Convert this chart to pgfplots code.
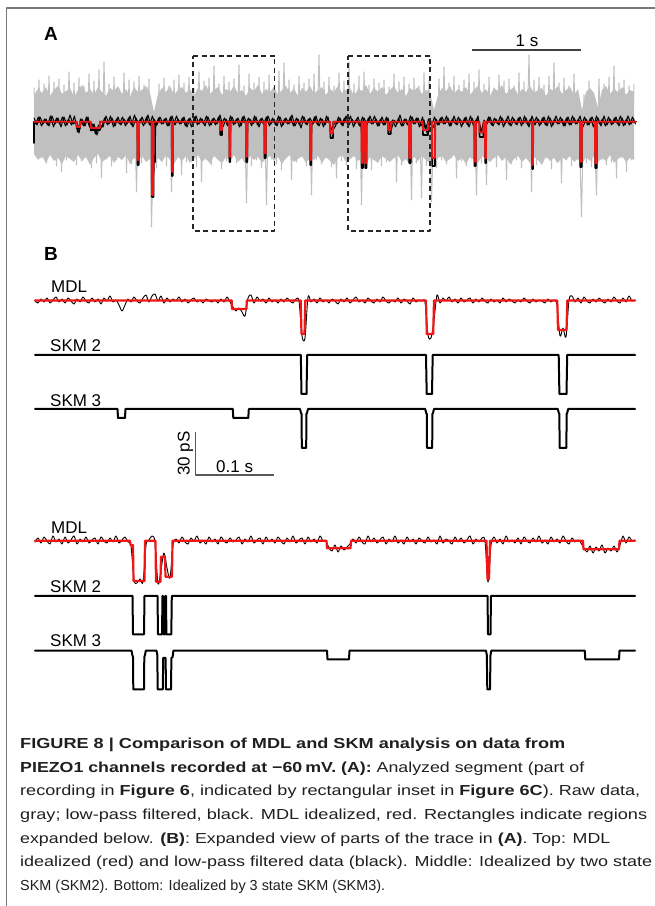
\documentclass[border=0pt]{standalone}
\usepackage{fontspec}
\setmainfont{Liberation Sans}
\usepackage{graphicx}
\usepackage{pgfplots}
\pgfplotsset{compat=1.18}
\usepgfplotslibrary{fillbetween}
\definecolor{rawgray}{RGB}{192,192,192}
\definecolor{mdlred}{RGB}{240,22,22}
\definecolor{framegray}{RGB}{120,120,120}
\newcommand\lab{\fontsize{17}{20}\selectfont}
\newcommand\capf{\fontsize{14.5}{17}\selectfont}
\begin{document}
\begin{tikzpicture}
\begin{axis}[name=ax, width=655pt, height=906pt, scale only axis,
  xmin=0, xmax=655, ymin=0, ymax=906, y dir=reverse, hide axis, clip=false,
  every axis plot/.append style={line join=round, line cap=round}]
% frame
\addplot[framegray, line width=1.5pt] coordinates {(6.5,906)(6.5,8)(655,8)};
% ---------- panel A ----------
\addplot[draw=none, name path=rawtop] table[header=false, row sep=\\, x expr=34+4*\coordindex, y index=0] {
95\\89\\93\\87\\96\\90\\86\\94\\91\\88\\
97\\90\\85\\93\\89\\95\\87\\92\\96\\88\\
91\\86\\94\\89\\97\\87\\92\\90\\86\\93\\
112\\94\\88\\92\\86\\95\\90\\87\\93\\89\\
96\\88\\91\\85\\94\\90\\87\\95\\89\\92\\
86\\93\\90\\96\\88\\91\\85\\94\\89\\92\\
87\\95\\90\\86\\93\\89\\96\\88\\92\\86\\
94\\90\\87\\95\\89\\92\\86\\93\\90\\88\\
96\\89\\91\\85\\94\\88\\92\\87\\95\\90\\
86\\93\\89\\96\\88\\91\\87\\94\\90\\92\\
110\\95\\88\\91\\86\\94\\89\\92\\87\\95\\
90\\86\\93\\89\\96\\88\\91\\85\\94\\90\\
87\\95\\89\\92\\86\\93\\90\\88\\96\\89\\
91\\86\\94\\90\\87\\95\\89\\110\\92\\88\\
93\\108\\90\\86\\94\\89\\92\\87\\95\\90\\
92\\
};
\addplot[draw=none, name path=rawbot] table[header=false, row sep=\\, x expr=34+4*\coordindex, y index=0] {
154\\160\\156\\163\\155\\161\\158\\164\\156\\159\\
162\\155\\161\\157\\165\\158\\154\\162\\159\\156\\
163\\157\\160\\155\\164\\158\\161\\156\\162\\159\\
166\\158\\162\\155\\160\\164\\157\\161\\156\\163\\
159\\155\\162\\158\\164\\156\\160\\163\\157\\161\\
155\\162\\158\\165\\156\\160\\157\\163\\159\\156\\
161\\157\\164\\158\\155\\162\\159\\156\\163\\158\\
160\\156\\163\\157\\161\\165\\158\\155\\162\\159\\
156\\161\\158\\164\\157\\160\\163\\156\\159\\162\\
158\\155\\162\\159\\165\\157\\161\\156\\160\\163\\
164\\158\\156\\162\\159\\155\\161\\158\\164\\157\\
160\\163\\156\\159\\162\\158\\155\\161\\157\\164\\
159\\156\\162\\158\\163\\157\\160\\165\\156\\161\\
158\\163\\157\\160\\156\\162\\159\\164\\157\\161\\
156\\162\\158\\161\\155\\163\\159\\156\\162\\158\\
160\\
};
\addplot[rawgray] fill between[of=rawtop and rawbot];
\addplot[rawgray, line width=1pt] table[header=false, row sep=\\, x expr=34+2.5*\coordindex, y index=0] {
88\\150\\80\\158\\84\\163\\76\\155\\82\\166\\
79\\172\\85\\160\\72\\157\\83\\165\\78\\161\\
86\\156\\74\\168\\81\\163\\70\\178\\62\\159\\
84\\166\\77\\160\\89\\158\\73\\173\\80\\164\\
82\\192\\76\\163\\85\\158\\79\\227\\120\\168\\
84\\161\\78\\166\\86\\192\\80\\159\\75\\175\\
83\\162\\77\\158\\88\\167\\72\\182\\81\\160\\
78\\165\\66\\157\\84\\169\\76\\161\\82\\158\\
79\\163\\65\\156\\86\\203\\74\\166\\83\\160\\
77\\168\\82\\205\\75\\159\\87\\164\\71\\170\\
63\\158\\80\\180\\85\\162\\76\\157\\83\\166\\
79\\195\\74\\160\\55\\164\\82\\158\\77\\167\\
86\\178\\73\\161\\81\\165\\62\\158\\84\\169\\
76\\205\\72\\163\\85\\170\\79\\160\\83\\166\\
80\\162\\87\\158\\74\\182\\82\\165\\77\\160\\
84\\200\\78\\163\\86\\198\\73\\166\\81\\202\\
118\\168\\79\\160\\67\\164\\83\\158\\76\\178\\
85\\161\\80\\166\\74\\159\\82\\195\\70\\163\\
84\\185\\77\\160\\88\\167\\75\\158\\81\\180\\
79\\164\\86\\160\\73\\168\\82\\157\\55\\192\\
80\\165\\77\\161\\85\\158\\76\\169\\63\\162\\
83\\183\\78\\160\\86\\166\\74\\159\\118\\217\\
95\\163\\81\\167\\118\\195\\79\\160\\84\\165\\
77\\162\\66\\178\\83\\158\\80\\172\\86\\160\\
84\\
};
% black low-pass fuzz
\addplot[black, line width=1pt] table[header=false, row sep=\\, x expr=34+3*\coordindex, y index=0] {
118\\125\\117\\124\\119\\126\\116\\124\\118\\127\\
117\\125\\115\\124\\122\\133\\119\\126\\117\\131\\
124\\135\\125\\127\\116\\124\\118\\126\\117\\125\\
119\\124\\116\\127\\118\\125\\117\\124\\115\\126\\
119\\125\\117\\124\\118\\126\\116\\125\\119\\124\\
117\\127\\118\\125\\116\\124\\119\\126\\117\\125\\
118\\124\\115\\127\\119\\125\\117\\124\\118\\126\\
116\\125\\119\\124\\117\\127\\118\\125\\116\\124\\
119\\126\\117\\125\\118\\124\\115\\126\\119\\128\\
117\\125\\118\\124\\116\\126\\119\\125\\117\\130\\
124\\124\\118\\126\\116\\125\\119\\124\\117\\127\\
118\\125\\116\\124\\119\\126\\117\\125\\118\\131\\
120\\124\\115\\126\\119\\125\\117\\124\\118\\126\\
120\\133\\123\\128\\119\\125\\117\\124\\118\\126\\
116\\125\\119\\124\\117\\127\\118\\125\\116\\133\\
120\\124\\117\\126\\119\\125\\118\\124\\116\\126\\
119\\125\\117\\124\\118\\127\\116\\125\\119\\124\\
117\\126\\118\\125\\116\\124\\119\\126\\117\\125\\
118\\124\\116\\127\\119\\125\\117\\124\\118\\126\\
116\\125\\119\\124\\117\\126\\118\\125\\116\\124\\
119\\
};
\addplot[black, line width=1pt] table[header=false, row sep=\\, x expr=35.5+3*\coordindex, y index=0] {
124\\117\\126\\119\\125\\116\\127\\118\\124\\117\\
126\\119\\125\\116\\132\\119\\126\\117\\127\\124\\
134\\125\\128\\118\\125\\116\\127\\119\\124\\117\\
126\\118\\125\\115\\124\\119\\126\\117\\125\\116\\
127\\118\\124\\119\\126\\117\\125\\116\\124\\118\\
126\\119\\127\\117\\125\\118\\124\\116\\126\\119\\
125\\117\\124\\118\\126\\116\\125\\119\\127\\117\\
124\\118\\126\\116\\125\\119\\124\\117\\126\\118\\
125\\116\\127\\119\\124\\117\\126\\118\\125\\116\\
124\\119\\126\\117\\125\\118\\127\\116\\124\\131\\
126\\117\\125\\118\\124\\116\\127\\119\\126\\117\\
125\\118\\124\\116\\126\\119\\125\\117\\131\\120\\
127\\118\\126\\119\\125\\116\\124\\118\\127\\117\\
130\\119\\126\\117\\125\\118\\124\\116\\126\\119\\
124\\117\\127\\118\\125\\116\\126\\119\\124\\133\\
126\\117\\125\\118\\124\\116\\127\\119\\125\\117\\
124\\118\\126\\116\\125\\119\\124\\117\\126\\118\\
125\\116\\127\\119\\124\\117\\126\\118\\125\\116\\
124\\119\\126\\117\\125\\118\\127\\116\\124\\119\\
126\\117\\125\\118\\124\\116\\126\\119\\125\\117\\
124\\
};
\addplot[black, line width=1.6pt] coordinates {(34,143)(34,121.8)(76.7,121.8)(76.7,128)(80,128)(80,121.8)(90.7,121.8)(90.7,130)(100,130)(100,121.8)(137.3,121.8)(137.5,165)(138.8,165)(139,121.8)(151.7,121.8)(151.9,197)(153.5,197)(153.8,160)(155,162)(155.3,121.8)(171.7,121.8)(171.9,176)(172.7,176)(172.9,121.8)(220,121.8)(220.3,135)(222,135)(222.2,121.8)(229.3,121.8)(229.5,162)(230.3,162)(230.5,121.8)(246,121.8)(246.2,162)(247.3,162)(247.5,121.8)(264.3,121.8)(264.5,158)(265.7,158)(265.9,121.8)(310,121.8)(310.2,165)(311.3,165)(311.5,121.8)(330,121.8)(330.5,138)(333,138)(333.3,121.8)(361.5,121.8)(361.7,168)(363,168)(363.2,121.8)(365,121.8)(365.2,168)(366.5,168)(366.7,121.8)(388,121.8)(388.3,134)(390.7,134)(391,121.8)(409,121.8)(409.2,163)(410.7,163)(410.9,121.8)(422.7,121.8)(423,135)(428,135)(428.2,121.8)(432,121.8)(432.2,166)(435,166)(435.2,121.8)(474.3,121.8)(474.5,166)(475.7,166)(475.9,121.8)(479.3,121.8)(479.6,137)(483.3,137)(483.6,121.8)(485,121.8)(485.2,163)(486,163)(486.2,121.8)(532,121.8)(532.2,169)(533,169)(533.2,121.8)(580,121.8)(580.2,167)(581.7,167)(581.9,121.8)(595,121.8)(595.2,168)(596.7,168)(596.9,121.8)(636,121.8)};
\addplot[mdlred, line width=1.8pt] coordinates {(34,121.8)(76.7,121.8)(76.7,127)(80,127)(80,121.8)(90.7,121.8)(90.7,128)(100,128)(100,121.8)(137.3,121.8)(137.5,160)(138.8,160)(139,121.8)(151.7,121.8)(151.9,195)(153.3,195)(153.5,121.8)(171.7,121.8)(171.9,171.7)(172.7,171.7)(172.9,121.8)(220,121.8)(220.3,130)(222,130)(222.2,121.8)(229.3,121.8)(229.5,156.7)(230.3,156.7)(230.5,121.8)(246,121.8)(246.2,156.7)(247.3,156.7)(247.5,121.8)(264.3,121.8)(264.5,153.3)(265.7,153.3)(265.9,121.8)(310,121.8)(310.2,160)(311.3,160)(311.5,121.8)(330,121.8)(330.5,133)(333,133)(333.3,121.8)(361.5,121.8)(361.7,163)(363,163)(363.2,121.8)(365,121.8)(365.2,163)(366.5,163)(366.7,121.8)(388,121.8)(388.3,130)(390.7,130)(391,121.8)(409,121.8)(409.2,158)(410.7,158)(410.9,121.8)(422.7,121.8)(423,130)(428,130)(428.2,121.8)(432,121.8)(432.2,158)(435,158)(435.2,121.8)(474.3,121.8)(474.5,161.7)(475.7,161.7)(475.9,121.8)(479.3,121.8)(479.6,132.3)(483.3,132.3)(483.6,121.8)(485,121.8)(485.2,158.3)(486,158.3)(486.2,121.8)(532,121.8)(532.2,165)(533,165)(533.2,121.8)(580,121.8)(580.2,161.7)(581.7,161.7)(581.9,121.8)(595,121.8)(595.2,163.3)(596.7,163.3)(596.9,121.8)(636,121.8)};
% dashed boxes
\addplot[black!85, line width=1.3pt, dash pattern=on 5pt off 3.5pt, line cap=butt] coordinates {(193,56)(274.5,56)(274.5,231)(193,231)(193,56)};
\addplot[black!85, line width=1.3pt, dash pattern=on 5pt off 3.5pt, line cap=butt] coordinates {(348,56)(430,56)(430,231)(348,231)(348,56)};
% 1 s bar
\addplot[black!75, line width=1.2pt, line cap=butt] coordinates {(472,50)(581,50)};
\node[anchor=base, inner sep=0] at (axis cs:527,46.5) {\lab 1 s};
\node[anchor=base west, inner sep=0] at (axis cs:44,40.5) {\fontsize{19}{22}\selectfont\bfseries A};
% ---------- panel B, first segment ----------
\node[anchor=base west, inner sep=0] at (axis cs:44,260.5) {\fontsize{19}{22}\selectfont\bfseries B};
\addplot[black, line width=0.9pt, smooth, tension=0.5] table[header=false, row sep=\\, x expr=35+3*\coordindex, y index=0] {
301\\303\\299\\302\\298\\303\\300\\297\\302\\299\\
303\\298\\301\\304\\299\\302\\297\\301\\303\\298\\
302\\299\\304\\298\\301\\296\\302\\300\\305\\311\\
305\\299\\302\\297\\301\\303\\298\\295\\302\\296\\
294\\301\\296\\303\\298\\302\\299\\301\\297\\302\\
299\\303\\300\\298\\302\\300\\303\\299\\301\\302\\
300\\303\\299\\302\\297\\302\\307\\311\\308\\312\\
316\\298\\295\\303\\297\\301\\299\\303\\298\\302\\
300\\303\\299\\302\\298\\301\\303\\299\\301\\336\\
338\\297\\302\\299\\303\\298\\302\\300\\303\\299\\
301\\304\\299\\302\\298\\303\\300\\297\\302\\300\\
303\\298\\301\\303\\299\\302\\297\\301\\303\\300\\
302\\298\\303\\299\\301\\304\\298\\302\\300\\301\\
302\\335\\338\\320\\295\\303\\298\\301\\297\\302\\
299\\303\\298\\302\\300\\298\\303\\299\\302\\298\\
301\\303\\299\\302\\300\\303\\298\\302\\299\\301\\
303\\300\\302\\298\\301\\303\\299\\302\\300\\301\\
303\\299\\302\\300\\305\\336\\328\\337\\300\\296\\
302\\298\\303\\297\\301\\303\\299\\302\\298\\301\\
303\\299\\302\\297\\301\\303\\298\\302\\296\\301\\
300\\
};
\addplot[mdlred, line width=2.2pt] coordinates {(35,300.5)(231.7,300.5)(231.9,309)(246.5,309)(246.7,300.5)(300.7,300.5)(301.5,334)(304.5,334)(305.3,300.5)(426,300.5)(426.8,334)(433.2,334)(434,300.5)(557.3,300.5)(558,330)(566.5,330)(567.3,300.5)(635,300.5)};
\addplot[black, line width=2pt] coordinates {(35,355)(300.8,355)(301.5,394)(306.5,394)(307.2,355)(426,355)(426.7,394)(432,394)(432.7,355)(558.7,355)(559.4,394)(566.5,394)(567.2,355)(635,355)};
\addplot[black, line width=2pt] coordinates {(35,409)(117.5,409)(118,418)(125,418)(125.5,409)(232.8,409)(233.3,418)(248.3,418)(248.8,409)(300,409)(301,413)(301.6,414)(301.8,448)(306.2,448)(306.4,414)(307,413)(308,409)(425.2,409)(426.2,413)(426.8,414)(427,448)(432.2,448)(432.4,414)(433,413)(434,409)(557.8,409)(558.8,413)(559.4,414)(559.6,448)(566.4,448)(566.6,414)(567.2,413)(568.2,409)(635,409)};
\node[anchor=base west, inner sep=0] at (axis cs:51,293) {\lab MDL};
\node[anchor=base west, inner sep=0] at (axis cs:50,352) {\lab SKM 2};
\node[anchor=base west, inner sep=0] at (axis cs:50,407) {\lab SKM 3};
% scale bar
\addplot[black!65, line width=1.2pt, line cap=butt] coordinates {(195.5,432)(195.5,475)(273.6,475)};
\node[anchor=base west, inner sep=0] at (axis cs:216,472.5) {\lab 0.1 s};
\node[rotate=90, inner sep=0] at (axis cs:185.5,453.5) {\lab 30 pS};
% ---------- panel B, second segment ----------
\addplot[black, line width=0.9pt, smooth, tension=0.5] table[header=false, row sep=\\, x expr=35+3*\coordindex, y index=0] {
542\\538\\543\\537\\541\\544\\536\\542\\539\\544\\
537\\543\\540\\536\\544\\539\\542\\537\\543\\540\\
538\\544\\537\\541\\543\\538\\542\\536\\543\\540\\
537\\542\\546\\580\\583\\579\\582\\545\\540\\536\\
542\\584\\570\\553\\568\\578\\545\\539\\543\\537\\
542\\544\\538\\541\\536\\543\\540\\544\\537\\542\\
539\\544\\537\\541\\543\\538\\542\\540\\537\\544\\
539\\542\\536\\543\\540\\538\\544\\537\\542\\539\\
543\\537\\541\\544\\538\\542\\536\\543\\540\\538\\
544\\537\\542\\539\\543\\536\\541\\541\\548\\551\\
545\\552\\546\\550\\547\\544\\539\\543\\537\\542\\
544\\536\\542\\538\\543\\540\\537\\544\\539\\542\\
536\\543\\540\\544\\537\\542\\539\\544\\538\\541\\
543\\537\\542\\540\\544\\536\\543\\539\\541\\544\\
537\\542\\538\\543\\540\\536\\544\\539\\542\\538\\
541\\582\\545\\537\\543\\539\\544\\536\\542\\540\\
543\\538\\544\\537\\541\\543\\538\\542\\536\\543\\
540\\544\\537\\542\\539\\543\\536\\541\\544\\538\\
542\\540\\543\\548\\552\\546\\553\\547\\551\\545\\
553\\548\\551\\546\\552\\545\\536\\543\\537\\541\\
540\\
};
\addplot[mdlred, line width=2.2pt] coordinates {(35,540.7)(130,540.7)(130.5,545)(133,545)(133.5,581)(144.5,581)(145,540.7)(155.5,540.7)(156,581.7)(160.5,581.7)(161,556.7)(165,556.7)(165.5,576.7)(172,576.7)(172.5,540.7)(326.5,540.7)(327,548.3)(350.5,548.3)(351,540.7)(486.5,540.7)(487.5,579.3)(489,579.3)(490,540.7)(583,540.7)(583.5,549.3)(619,549.3)(619.5,540.7)(635,540.7)};
\addplot[black, line width=2pt] coordinates {(35,596)(132.5,596)(133,634.3)(144,634.3)(144.5,596)(157.5,596)(158,634.3)(162,634.3)(162.5,596)(163.2,596)(163.6,634.3)(165,634.3)(165.4,596)(166,596)(166.4,634.3)(171.3,634.3)(171.8,596)(487.5,596)(488,634.3)(490.5,634.3)(491,596)(635,596)};
\addplot[black, line width=2pt] coordinates {(35,650.7)(131.5,650.7)(132.3,655)(133,657)(133.3,689.3)(144,689.3)(144.3,657)(145,655)(145.8,650.7)(156.5,650.7)(157.3,655)(157.7,689.3)(162.8,689.3)(163.2,658)(165.6,658)(166,689.3)(171,689.3)(171.4,658)(172.6,657)(173.4,650.7)(327,650.7)(327.5,659.3)(349,659.3)(349.5,650.7)(486,650.7)(486.8,655)(487.3,689.3)(490,689.3)(490.5,655)(491.3,650.7)(584.8,650.7)(585.3,659.3)(619,659.3)(619.5,650.7)(635,650.7)};
\node[anchor=base west, inner sep=0] at (axis cs:51,534) {\lab MDL};
\node[anchor=base west, inner sep=0] at (axis cs:50,593) {\lab SKM 2};
\node[anchor=base west, inner sep=0] at (axis cs:50,647) {\lab SKM 3};
% ---------- caption ----------
\node[anchor=base west, inner sep=0, text=black!88] at (axis cs:20,748.3) {\resizebox{545pt}{\height}{\capf\bfseries FIGURE 8 | Comparison of MDL and SKM analysis on data from}};
\node[anchor=base west, inner sep=0, text=black!88] at (axis cs:20,772.3) {\resizebox{564pt}{\height}{\capf\textbf{PIEZO1 channels recorded at −60\,mV. (A):} Analyzed segment (part of}};
\node[anchor=base west, inner sep=0, text=black!88] at (axis cs:20,795.9) {\resizebox{620pt}{\height}{\capf recording in \textbf{Figure 6}, indicated by rectangular inset in \textbf{Figure 6C}). Raw data,}};
\node[anchor=base west, inner sep=0, text=black!88] at (axis cs:20,819.5) {\resizebox{627pt}{\height}{\capf gray; low-pass filtered, black. MDL idealized, red. Rectangles indicate regions}};
\node[anchor=base west, inner sep=0, text=black!88] at (axis cs:20,843.1) {\resizebox{590pt}{\height}{\capf expanded below. \textbf{(B)}: Expanded view of parts of the trace in \textbf{(A)}. Top: MDL}};
\node[anchor=base west, inner sep=0, text=black!88] at (axis cs:20,866.7) {\resizebox{632pt}{\height}{\capf idealized (red) and low-pass filtered data (black). Middle: Idealized by two state}};
\node[anchor=base west, inner sep=0, text=black!88] at (axis cs:20,890.3) {\resizebox{365pt}{\height}{\capf SKM (SKM2). Bottom: Idealized by 3 state SKM (SKM3).}};
\end{axis}
\pgfresetboundingbox
\path (ax.south west) rectangle (ax.north east);
\end{tikzpicture}
\end{document}
